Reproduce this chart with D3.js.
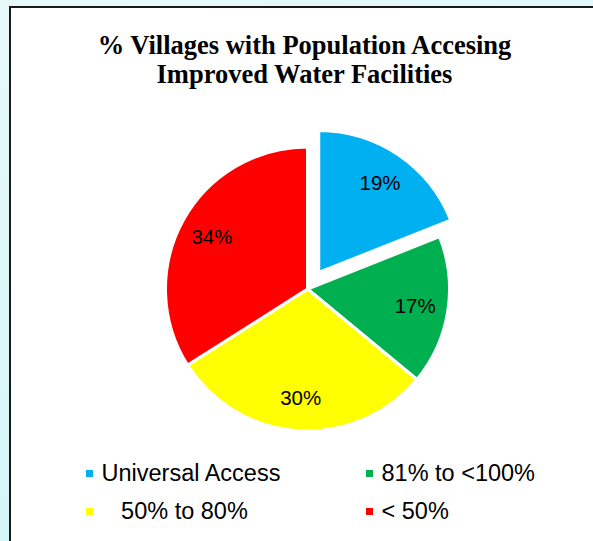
<!DOCTYPE html>
<html>
<head>
<meta charset="utf-8">
<script src="https://cdn.jsdelivr.net/npm/d3@7/dist/d3.min.js"></script>
<style>
  html, body { margin: 0; padding: 0; background: #fff; }
  svg { display: block; }
</style>
</head>
<body>
<script>
// ---- data ----
const titleLines = ["% Villages with Population Accesing", "Improved Water Facilities"];
const categories = ["Universal Access", "81% to <100%", "\u00a0\u00a0\u00a050% to 80%", "< 50%"];
const values = [19, 17, 30, 34];
const colors = ["#00b0f0", "#00b050", "#ffff00", "#ff0000"];
const exploded = [true, false, false, false];

// ---- layout ----
const W = 593, H = 541;
const cx = 307.5, cy = 289, R = 142, labelR = 109, explodeDist = 20;

const svg = d3.select("body").append("svg").attr("width", W).attr("height", H);

const defs = svg.append("defs");
const grad = defs.append("linearGradient").attr("id", "bg")
  .attr("x1", "0").attr("y1", "0").attr("x2", "0.3").attr("y2", "1");
grad.append("stop").attr("offset", "0").attr("stop-color", "#e8f9fb");
grad.append("stop").attr("offset", "1").attr("stop-color", "#d2f5f8");

svg.append("rect").attr("width", W).attr("height", H).attr("fill", "url(#bg)");

// chart area frame
svg.append("rect").attr("x", 11).attr("y", 8).attr("width", W + 20).attr("height", H + 20)
  .attr("fill", "none").attr("stroke", "#9aa").attr("stroke-width", 1);
svg.append("rect").attr("x", 10).attr("y", 7).attr("width", W + 20).attr("height", H + 20)
  .attr("fill", "#ffffff").attr("stroke", "#1a1a1a").attr("stroke-width", 2);

// title
const title = svg.append("text")
  .attr("text-anchor", "middle")
  .attr("font-family", "'Liberation Serif', 'Times New Roman', serif")
  .attr("font-weight", "bold")
  .attr("font-size", 26.5)
  .attr("fill", "#000");
titleLines.forEach((t, i) => {
  title.append("tspan").attr("x", 304.5).attr("y", 53.5 + i * 29.5).text(t);
});

// pie
const pie = d3.pie().sort(null).value(d => d)(values);
const arc = d3.arc().innerRadius(0).outerRadius(R);
const labelArc = d3.arc().innerRadius(labelR).outerRadius(labelR);

const g = svg.append("g").attr("transform", `translate(${cx},${cy})`);
const slices = g.selectAll("g.slice").data(pie).enter().append("g")
  .attr("class", "slice")
  .attr("transform", (d, i) => {
    if (!exploded[i]) return null;
    const a = (d.startAngle + d.endAngle) / 2;
    return `translate(${Math.sin(a) * explodeDist},${-Math.cos(a) * explodeDist})`;
  });

slices.append("path")
  .attr("d", arc)
  .attr("fill", (d, i) => colors[i])
  .attr("stroke", "#ffffff")
  .attr("stroke-width", 3)
  .attr("stroke-linejoin", "round");

slices.append("text")
  .attr("transform", d => `translate(${labelArc.centroid(d)})`)
  .attr("text-anchor", "middle")
  .attr("dy", "0.36em")
  .attr("font-family", "'Liberation Sans', Arial, sans-serif")
  .attr("font-size", 20.5)
  .attr("fill", "#000")
  .text(d => d.data + "%");

// legend
const legendCols = [86, 366];
const legendRows = [481, 519];
const legend = svg.append("g");
categories.forEach((c, i) => {
  const x = legendCols[i % 2], y = legendRows[Math.floor(i / 2)];
  legend.append("rect").attr("x", x).attr("y", y - 11).attr("width", 7).attr("height", 7)
    .attr("fill", colors[i]);
  legend.append("text").attr("x", x + 15.5).attr("y", y)
    .attr("font-family", "'Liberation Sans', Arial, sans-serif")
    .attr("font-size", 23.5)
    .attr("fill", "#000")
    .text(c);
});
</script>
</body>
</html>
